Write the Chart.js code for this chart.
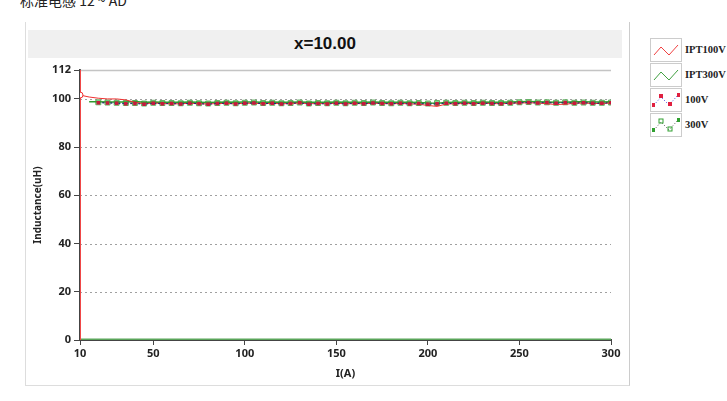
<!DOCTYPE html>
<html>
<head>
<meta charset="utf-8">
<script src="https://cdn.jsdelivr.net/npm/chart.js@4.4.1/dist/chart.umd.min.js"></script>
<style>
  body { margin: 0; background: #fff; width: 727px; height: 401px; overflow: hidden; position: relative; font-family: "Noto Sans", sans-serif; }
  #topText { position: absolute; left: 20px; top: -10px; font: 14px "Noto Sans CJK SC"; color: #222; }
  #panel { position: absolute; left: 25px; top: 22px; width: 603px; height: 363px; border-left: 1px solid #ddd; border-bottom: 1px solid #ddd; border-right: 1px solid #ccc; }
  #titleBar { position: absolute; left: 28px; top: 30px; width: 594px; height: 28px; background: #f0f0f0; text-align: center; font: bold 17px "Liberation Sans", Arial, sans-serif; line-height: 28px; color: #111; }
  #chartBox { position: absolute; left: 28px; top: 60px; }
  #legend { position: absolute; left: 650px; top: 37px; }
  .item { display: flex; align-items: center; height: 25px; }
  .item svg { border: 1px solid #ccc; background: #fff; }
  .item span { margin-left: 3px; font: bold 10.5px "Liberation Serif", serif; color: #222; }
</style>
</head>
<body>
<div id="topText">标准电感 12 ~ AD</div>
<div id="panel"></div>
<div id="titleBar">x=10.00</div>
<div id="chartBox"><canvas id="myChart" width="600" height="320"></canvas></div>
<div id="legend">
  <div class="item"><svg width="30" height="22"><polyline points="3,16 10,8 18,16 27,6" fill="none" stroke="#f04040" stroke-width="1"/></svg><span>IPT100V</span></div>
  <div class="item"><svg width="30" height="22"><polyline points="3,16 10,8 18,16 27,6" fill="none" stroke="#40a040" stroke-width="1"/></svg><span>IPT300V</span></div>
  <div class="item"><svg width="30" height="22"><polyline points="3,16 10,8 18,16 27,6" fill="none" stroke="#4040e0" stroke-width="1" stroke-dasharray="1,2"/><rect x="8" y="5" width="4" height="4" fill="#e02040"/><rect x="17" y="13" width="4" height="4" fill="#e02040"/><rect x="1" y="14" width="3" height="4" fill="#e02040"/><rect x="26" y="4" width="3" height="4" fill="#e02040"/></svg><span>100V</span></div>
  <div class="item"><svg width="30" height="22"><polyline points="3,16 10,8 18,16 27,6" fill="none" stroke="#555" stroke-width="1" stroke-dasharray="1,2"/><rect x="8" y="5" width="4" height="4" fill="none" stroke="#30a030"/><rect x="17" y="13" width="4" height="4" fill="none" stroke="#30a030"/><rect x="1" y="14" width="3" height="4" fill="#30a030"/><rect x="26" y="4" width="3" height="4" fill="#30a030"/></svg><span>300V</span></div>
</div>
<script>
// current points (A)
const xs = [20,25,30,35,40,45,50,55,60,65,70,75,80,85,90,95,100,105,110,115,120,125,130,135,140,145,150,155,160,165,170,175,180,185,190,195,200,205,210,215,220,225,230,235,240,245,250,255,260,265,270,275,280,285,290,295,300];
const iptX = [10,15,20,25,30,35,40,45,50,55,60,65,70,75,80,85,90,95,100,105,110,115,120,125,130,135,140,145,150,155,160,165,170,175,180,185,190,195,200,205,210,215,220,225,230,235,240,245,250,255,260,265,270,275,280,285,290,295,300];

// measured inductance (uH)
const v100 = [98.4,98.3,98.2,98.0,98.1,97.8,98.2,98.0,98.1,97.9,
  98.2,98.0,97.8,98.1,98.2,97.9,98.2,98.3,98.0,98.2,
  97.9,98.1,98.4,97.8,98.1,97.9,98.2,97.9,98.2,98.0,
  98.3,98.1,98.0,98.2,97.9,98.1,97.8,98.0,98.2,98.0,
  98.2,98.0,98.2,98.1,98.0,98.2,98.4,98.5,98.3,98.5,
  98.2,98.5,98.2,98.4,98.2,98.2,98.4];
const v300 = [98.6,98.5,98.4,98.3,98.3,98.1,98.4,98.3,98.3,98.2,
  98.4,98.2,98.1,98.3,98.4,98.2,98.4,98.5,98.3,98.4,
  98.2,98.3,98.5,98.1,98.3,98.2,98.4,98.2,98.4,98.3,
  98.5,98.3,98.2,98.4,98.2,98.3,98.1,98.3,98.4,98.3,
  98.4,98.3,98.4,98.3,98.3,98.4,98.6,98.7,98.5,98.6,
  98.4,98.6,98.4,98.5,98.4,98.4,98.5];
const ipt100 = [101.6,100.8,100.3,100.0,100.0,99.6,98.6,
  98.0,98.3,98.1,98.0,98.0,98.2,98.0,97.9,98.1,98.1,
  98.0,98.2,98.2,98.0,98.2,98.0,98.1,98.3,98.0,98.1,
  98.0,98.2,98.0,98.1,98.0,98.2,98.1,98.0,98.1,98.0,
  97.8,97.3,96.9,97.9,98.0,98.1,98.0,98.2,98.1,98.0,
  98.2,98.3,98.4,98.3,98.0,97.7,97.8,98.2,98.3,98.1,
  98.1,98.3];
const ipt300 = [null,98.8,98.8,98.7,98.7,98.7,98.9,
  98.6,98.7,98.6,98.6,98.6,98.7,98.6,98.5,98.6,98.7,
  98.6,98.7,98.7,98.6,98.7,98.6,98.6,98.7,98.6,98.6,
  98.6,98.7,98.6,98.6,98.6,98.7,98.6,98.6,98.6,98.6,
  98.5,98.3,98.2,98.5,98.6,98.6,98.6,98.7,98.6,98.6,
  98.7,98.8,98.9,98.8,98.7,98.6,98.6,98.8,98.8,98.7,
  98.7,98.8];
// start-up trace segments
const baseX = [10, 300];
const baseY = [0, 0];
const riseX = [10, 10];
const riseY = [0, 112];

const xTicks = [10, 50, 100, 150, 200, 250, 300];
const yTicks = [0, 20, 40, 60, 80, 100, 112];

function pts(x, y) {
  return x.map((v, i) => ({ x: v, y: y[i] }));
}

const gridPlugin = {
  id: 'gridPlugin',
  beforeDatasetsDraw(chart) {
    const c = chart.ctx, a = chart.chartArea, ys = chart.scales.y;
    c.save();
    yTicks.forEach(t => {
      if (t === 0) return;
      const py = Math.round(ys.getPixelForValue(t)) + 0.5;
      c.beginPath();
      if (t === 112) {
        c.strokeStyle = '#c4c4c4';
        c.lineWidth = 1.5;
        c.setLineDash([]);
      } else {
        c.strokeStyle = '#a0a0a0';
        c.lineWidth = 1;
        c.setLineDash([2, 3]);
      }
      c.moveTo(a.left, py);
      c.lineTo(a.right, py);
      c.stroke();
    });
    c.restore();
  }
};

const tickFont = { family: "'Noto Sans', sans-serif", size: 11, weight: 'bold' };

// first dataset is drawn on top
new Chart(document.getElementById('myChart'), {
  type: 'line',
  data: {
    datasets: [
      { data: [{ x: iptX[0], y: ipt100[0] }], borderColor: '#f03030', pointRadius: 3, pointBackgroundColor: '#fff', pointBorderColor: '#f03030', showLine: false },
      { data: pts(riseX, riseY), borderColor: '#f04848', borderWidth: 2, pointRadius: 0 },
      { data: pts(xs, v100), borderColor: '#202080', borderWidth: 1, borderDash: [2, 2], pointStyle: 'rect', pointRadius: 2.5, pointBorderColor: '#c8183c', pointBackgroundColor: '#c8183c', pointBorderWidth: 0 },
      { data: pts(iptX, ipt100), borderColor: '#f03030', borderWidth: 1, pointRadius: 0 },
      { data: pts(iptX, ipt300), borderColor: '#2e9a2e', borderWidth: 1.5, pointRadius: 0, spanGaps: true },
      { data: pts(xs, v300), borderColor: '#333', borderWidth: 1, borderDash: [2, 2], pointStyle: 'rect', pointRadius: 3.5, pointBorderColor: '#5fb35f', pointBackgroundColor: '#8fcf8f', pointBorderWidth: 1 },
      { data: pts(baseX, baseY), borderColor: '#5aa55a', borderWidth: 3, pointRadius: 0 }
    ]
  },
  options: {
    responsive: false,
    animation: false,
    devicePixelRatio: 1,
    layout: { padding: { top: 10, right: 17, left: 0, bottom: 0 } },
    plugins: { legend: { display: false }, tooltip: { enabled: false } },
    scales: {
      x: {
        type: 'linear',
        min: 10,
        max: 300,
        afterBuildTicks: s => { s.ticks = xTicks.map(v => ({ value: v })); },
        afterFit: s => { s.height = 40; },
        grid: { drawOnChartArea: false, color: '#444', tickLength: 5 },
        border: { color: '#444', width: 2 },
        ticks: { font: tickFont, color: '#222', padding: 2, maxRotation: 0 },
        title: { display: true, text: 'I(A)', font: tickFont, color: '#222', padding: 0 }
      },
      y: {
        min: 0,
        max: 112,
        afterBuildTicks: s => { s.ticks = yTicks.map(v => ({ value: v })); },
        afterFit: s => { s.width = 52; },
        grid: { drawOnChartArea: false, color: '#444', tickLength: 6 },
        border: { color: '#444', width: 2 },
        ticks: { font: tickFont, color: '#222', padding: 3 },
        title: { display: true, text: 'Inductance(uH)', font: { family: "'Noto Sans', sans-serif", size: 10, weight: 'bold' }, color: '#222', padding: 4 }
      }
    }
  },
  plugins: [gridPlugin]
});
</script>
</body>
</html>
